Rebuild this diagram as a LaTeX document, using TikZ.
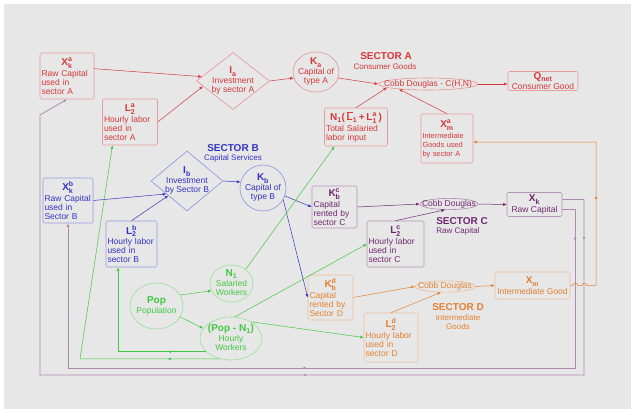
\documentclass[tikz,border=0pt]{standalone}
\usepackage{amsmath}
\usepackage{fontspec}
\setmainfont{Liberation Sans}
\usetikzlibrary{shapes.geometric,arrows.meta,decorations.markings}

\definecolor{secA}{RGB}{214,56,56}
\definecolor{secB}{RGB}{52,52,196}
\definecolor{secC}{RGB}{112,40,112}
\definecolor{secD}{RGB}{228,128,48}
\definecolor{popG}{RGB}{64,200,64}
\definecolor{bgc}{RGB}{231,231,231}

% bold variable with sub- and superscript
\newcommand{\bvar}[3]{{\fontsize{10}{10}\selectfont$\textbf{#1}_{\textbf{#2}}^{\textbf{#3}}$}}
\newcommand{\boxhead}[1]{\hfill#1\hfill\null}
\newcommand{\ctext}[1]{\makebox[0pt]{\raisebox{-2.2pt}[0pt][0pt]{\begin{tabular}{@{}c@{}}#1\end{tabular}}}}

\begin{document}
\begin{tikzpicture}[x=1pt,y=-1pt,
vbox/.style={
% boxes of a sector
rectangle,
rounded corners=1.5pt,
draw=#1!50,
text=#1,
line width=0.6pt,
inner sep=1.5pt,
align=left,
font=\fontsize{8.5}{9}\selectfont
},
vboxc/.style={vbox=#1, align=center, inner sep=0pt},
oval/.style={ellipse, draw=#1!55, text=#1, line width=0.6pt, inner sep=0pt, font=\fontsize{8.5}{9}\selectfont},
rhomb/.style={diamond, draw=#1!55, text=#1, line width=0.6pt, inner sep=0pt, font=\fontsize{8.5}{9}\selectfont},
link/.style={draw=#1, line width=0.5pt, -{Latex[length=3.5pt,width=3pt]}},
loopC/.style={draw=secC!55!white, line width=0.8pt, -{Latex[length=3.5pt,width=3pt]}},
sect/.style={text=#1, font=\bfseries\fontsize{10}{11}\selectfont, inner sep=0pt},
sectsub/.style={text=#1, font=\fontsize{8}{9}\selectfont, inner sep=0pt, align=center},
midarr/.style 2 args={postaction={decorate}, decoration={markings,
  mark=at position #1 with {\arrow{Latex[length=3pt,width=3pt]}},
  mark=at position #2 with {\arrow{Latex[length=3pt,width=3pt]}}}},
midarr1/.style={postaction={decorate}, decoration={markings,
  mark=at position #1 with {\arrow{Latex[length=3pt,width=3pt]}}}}
]
\useasboundingbox (0,0) rectangle (631,409);
\fill[white] (0,0) rectangle (631,409);
\fill[bgc] (4,4) rectangle (631,409);

% Sector A
\node[vbox=secA, minimum width=54pt, minimum height=46pt, text width=51pt] (XkA) at (67,76) {\boxhead{\bvar{X}{k}{a}}\\[1.5pt]Raw Capital\\used in\\sector A};
\node[vbox=secA, minimum width=55pt, minimum height=46pt, text width=52pt] (L2A) at (130,122) {\boxhead{\bvar{L}{2}{a}}\\[1.5pt]Hourly labor\\used in\\sector A};
\node[rhomb=secA, minimum width=73pt, minimum height=57pt] (Ia) at (233,81) {\ctext{\bvar{I}{a}{}\\[1pt]Investment\\by sector A}};
\node[oval=secA, minimum width=46pt, minimum height=40pt] (Ka) at (316,72) {\ctext{\bvar{K}{a}{}\\[1pt]Capital of\\type A}};
\node[sect=secA] (titA) at (386,56) {SECTOR A};
\node[sectsub=secA] (subA) at (385,67) {Consumer Goods};
\node[oval=secA, minimum width=99pt, minimum height=12pt] (CobbA) at (428,84) {\makebox[0pt]{Cobb Douglas - C(H,N)}};
\node[vboxc=secA, minimum width=70pt, minimum height=19pt] (Qnet) at (543,81) {\bvar{Q}{net}{}\\[1.5pt]Consumer Good};
\node[vbox=secA, minimum width=63pt, minimum height=38pt, text width=60pt] (N1box) at (356,127) {\boxhead{{\fontsize{10}{10}\selectfont$\textbf{N}_{\textbf{1}}\textbf{(}\,\overline{\textbf{L}}_{\textbf{1}}\,\textbf{+}\,\textbf{L}_{\textbf{1}}^{\textbf{a}}\,\textbf{)}$}}\\[1.5pt]Total Salaried\\labor input};
\node[vbox=secA, minimum width=52pt, minimum height=49pt, text width=49pt, font=\fontsize{7.4}{9}\selectfont] (Xma) at (447,138.5) {\boxhead{\bvar{X}{m}{a}}\\[1.5pt]Intermediate\\Goods used\\by sector A};

% Sector B
\node[vbox=secB, minimum width=50pt, minimum height=45pt, text width=47pt] (XkB) at (68,200.5) {\boxhead{\bvar{X}{k}{b}}\\[1.5pt]Raw Capital\\used in\\Sector B};
\node[vbox=secB, minimum width=51pt, minimum height=46pt, text width=48pt] (L2B) at (131.5,244) {\boxhead{\bvar{L}{2}{b}}\\[1.5pt]Hourly labor\\used in\\sector B};
\node[rhomb=secB, minimum width=72pt, minimum height=60pt] (Ib) at (187,181) {\ctext{\bvar{I}{b}{}\\[1pt]Investment\\by Sector B}};
\node[sect=secB] (titB) at (233,148) {SECTOR B};
\node[sectsub=secB] (subB) at (233,158) {Capital Services};
\node[oval=secB, minimum width=46pt, minimum height=46pt] (Kb) at (263,188) {\ctext{\bvar{K}{b}{}\\[1pt]Capital of\\type B}};

% Sector C
\node[vbox=secC, minimum width=45pt, minimum height=42pt, text width=42pt] (Kbc) at (334.5,207) {\boxhead{\bvar{K}{b}{c}}\\[1.5pt]Capital\\rented by\\sector C};
\node[vbox=secC, minimum width=57pt, minimum height=46pt, text width=54pt] (L2C) at (395.5,244) {\boxhead{\bvar{L}{2}{c}}\\[1.5pt]Hourly labor\\used in\\sector C};
\node[oval=secC, minimum width=58pt, minimum height=10pt] (CobbC) at (449,204) {\makebox[0pt]{Cobb Douglas}};
\node[sect=secC] (titC) at (462,221) {SECTOR C};
\node[sectsub=secC] (subC) at (458,231) {Raw Capital};
\node[vboxc=secC, minimum width=55pt, minimum height=24pt] (Xk) at (534.5,204.5) {\bvar{X}{k}{}\\[1.5pt]Raw Capital};

% Sector D
\node[vbox=secD, minimum width=45pt, minimum height=45pt, text width=42pt] (Kbd) at (330.5,297.5) {\boxhead{\bvar{K}{b}{d}}\\[1.5pt]Capital\\rented by\\Sector D};
\node[vbox=secD, minimum width=54pt, minimum height=49pt, text width=51pt] (L2D) at (391,337.5) {\boxhead{\bvar{L}{2}{d}}\\[1.5pt]Hourly labor\\used in\\sector D};
\node[oval=secD, minimum width=60pt, minimum height=11pt] (CobbD) at (445,286.5) {\makebox[0pt]{Cobb Douglas}};
\node[sect=secD] (titD) at (458,307) {SECTOR D};
\node[sectsub=secD] (subD) at (458,322) {Intermediate\\Goods};
\node[vboxc=secD, minimum width=75pt, minimum height=27pt] (Xm) at (532.5,285.5) {\bvar{X}{m}{}\\[1.5pt]Intermediate Good};

% Population
\node[oval=popG, minimum width=53pt, minimum height=46pt] (Pop) at (156.5,306) {\ctext{{\bfseries\fontsize{10}{11}\selectfont Pop}\\[1pt]Population}};
\node[oval=popG, minimum width=43pt, minimum height=37pt] (N1) at (231.5,283.5) {\ctext{\bvar{N}{1}{}\\[1pt]Salaried\\Workers}};
\node[oval=popG, minimum width=62pt, minimum height=43pt] (PopN1) at (231,338.5) {\ctext{{\fontsize{10}{11}\selectfont\textbf{(Pop - }\bvar{N}{1}{}\textbf{)}}\\[1pt]Hourly\\Workers}};

\coordinate (oR) at (596,142);
\coordinate (cO1) at (584,375);
\coordinate (cO2) at (40,375);
\coordinate (cO3) at (40,115);
\coordinate (cI1) at (575,368);
\coordinate (gB) at (118,351);
\coordinate (gA) at (80,358);

% sector A links
\draw[link=secA] (XkA.15) -- (Ia.172);
\draw[link=secA] (L2A.east) -- (Ia.190);
\draw[link=secA] (Ia.east) -- (Ka.195);
\draw[link=secA] (Ka.-15) -- (CobbA.west);
\draw[link=secA] (N1box.north) -- (CobbA.185);
\draw[link=secA] (Xma.north) -- (CobbA.190);
\draw[link=secA] (CobbA.east) -- (CobbA.east -| Qnet.west);

% sector B links
\draw[link=secB] (XkB.east) -- (Ib.212);
\draw[link=secB] (L2B.north) -- (Ib.218);
\draw[link=secB] (Ib.east) -- (Kb.165);
\draw[link=secB] (Kb.-20) -- (Kbc.west);
\draw[link=secB] (Kb.-30) -- (Kbd.west);

% sector C links
\draw[link=secC] (Kbc.east) -- (CobbC.west);
\draw[link=secC] (L2C.north) -- (CobbC.235);
\draw[link=secC] (CobbC.east) -- (Xk.west);
\draw[loopC, midarr={62pt}{478pt}] (Xk.10) -| (cO1) -- (cO2) -- (cO3) -- (XkA.south);
\draw[loopC, midarr={44pt}{444pt}] (Xk.-10) -| (cI1) -- (cI1 -| XkB.south) -- (XkB.south);

% sector D links
\draw[link=secD] (Kbd.east) -- (CobbD.west);
\draw[link=secD] (L2D.north) -- (CobbD.235);
\draw[link=secD] (CobbD.east) -- (Xm.west);
\draw[link=secD, midarr1=121pt] (Xm.east) -- ++(2.5,0) .. controls +(0,-3.3) and +(0,-3.3) .. ++(5,0) -- ++(4,0) .. controls +(0,-3.3) and +(0,-3.3) .. ++(5,0) -- (Xm.east -| oR) -- (oR) -- (oR -| Xma.east);

% population links
\draw[link=popG] (Pop.25) -- (N1.200);
\draw[link=popG] (Pop.-25) -- (PopN1.160);
\draw[link=popG] (N1.45) -- (N1box.222);
\draw[link=popG] (PopN1.80) -- (L2C.west);
\draw[link=popG] (PopN1.40) -- (L2D.west);
\draw[link=popG, midarr1=38pt] (PopN1.208) -| (gB |- L2B.south);
\draw[link=popG, midarr1=52pt] (PopN1.241) -- (PopN1.241 -| gA) -- (L2A.233);
\end{tikzpicture}
\end{document}
